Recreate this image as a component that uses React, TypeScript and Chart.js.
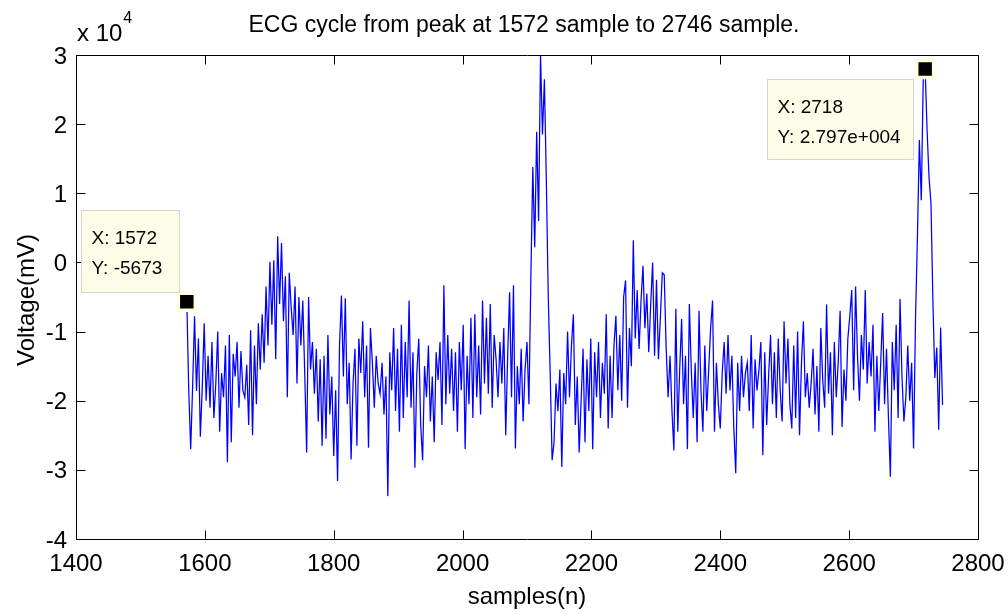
import React, { useEffect, useRef } from "react";
import { Chart, registerables } from "chart.js";

Chart.register(...registerables);

const TITLE = "ECG cycle from peak at 1572 sample to 2746 sample.";
const X_LABEL = "samples(n)";
const Y_LABEL = "Voltage(mV)";
const EXPONENT_BASE = "x 10";
const EXPONENT_POWER = "4";

const START_SAMPLE = 1572;
const SAMPLE_STEP = 3;

// ECG voltage (mV), one value per 3 samples, from sample 1572
const voltage = [
  -5673, -18500, -27000, -18000, -7800, -18600, -11000, -25200, -18000, -8800,
  -20000, -13500, -21000, -11500, -22500, -17500, -10000, -24500, -16000, -19500,
  -12000, -28900, -10500, -26000, -13200, -16500, -11500, -21000, -12800, -18500,
  -19500, -14800, -23500, -9800, -25000, -12000, -20500, -8800, -15500, -7500,
  -14500, -3500, -12000, 100, -9000, 300, -14000, 3800, -6000, 2800,
  -8500, -2000, -19500, -1500, -6500, -10500, -3500, -17500, -5000, -12000,
  -5500, -16000, -27500, -5000, -15500, -11500, -19000, -12500, -23000, -14000,
  -26500, -13500, -25500, -10500, -22000, -16500, -28000, -18500, -31600, -12000,
  -4800, -16500, -5200, -20500, -14500, -28500, -17500, -12500, -26500, -11000,
  -16000, -8500, -19500, -12000, -26800, -9500, -14500, -21000, -13500, -17500,
  -19000, -14500, -22000, -16500, -33800, -13000, -18500, -9500, -21500, -12500,
  -24500, -9000, -22500, -11500, -19500, -5500, -21000, -13000, -29700, -16000,
  -11000, -23500, -28600, -15000, -19500, -12000, -23000, -16500, -26000, -13000,
  -17000, -11500, -23500, -3300, -20500, -10500, -19000, -12500, -21500, -13000,
  -24500, -11500, -18500, -9000, -27000, -13500, -20500, -8000, -22500, -7500,
  -19500, -12000, -22000, -5500, -17500, -8000, -19000, -6000, -21000, -10500,
  -14000, -19500, -11500, -17500, -9500, -25000, -13500, -4300, -19500, -3300,
  -26900, -15000, -20500, -12500, -23000, -15500, -11500, -20500, -2100, 13800,
  2200, 18900, 6000, 30000, 18500, 26500, 11900, -5000, -16000, -28600,
  -26000, -17500, -21500, -15500, -29600, -16000, -20500, -10000, -19500, -12000,
  -7500, -23500, -16500, -27500, -20000, -12500, -26000, -14000, -21500, -11000,
  -27000, -13000, -19500, -11500, -22500, -14500, -19000, -7500, -24000, -13500,
  -22500, -12000, -7700, -18500, -10500, -20000, -5000, -2600, -21000, -9500,
  -15000, 3200, -11000, -4000, -12500, -5500, -500, -9500, -4500, -13000,
  -6000, 0, -13500, -2500, -14000, -8000, -1500, -1800, -12500, -19500,
  -13500, -21500, -27200, -6700, -24500, -15500, -8200, -20500, -13500, -27000,
  -6000, -15500, -22500, -14500, -26000, -7000, -18500, -24500, -12000, -21500,
  -15500, -9500, -5500, -24500, -14500, -20500, -24000, -16000, -11500, -19000,
  -10500, -18500, -13500, -24000, -30500, -14500, -21500, -13500, -19500, -16000,
  -14500, -21500, -10500, -24000, -14000, -18500, -15500, -11500, -27900, -13000,
  -23500, -16500, -10500, -20500, -13000, -22500, -11000, -18500, -23000, -8500,
  -17500, -11000, -20500, -24000, -12000, -22500, -10000, -25000, -14500, -8500,
  -19500, -16000, -21000, -17500, -12500, -22000, -15000, -24500, -9500, -17000,
  -21000, -6100, -19000, -13000, -25000, -11500, -19500, -14500, -7000, -23800,
  -15500, -20000, -11000, -7800, -4000, -18500, -3500, -13500, -20000, -10500,
  -15500, -4000, -17500, -11500, -16500, -9000, -24500, -13500, -21500, -14500,
  -7300, -20500, -12500, -22500, -31000, -11500, -18500, -9000, -22500, -5300,
  -16500, -23000, -19500, -12000, -20000, -14500, -26900, -8300, 3700, 17700,
  9000, 26400, 27970, 19000, 12300, 8600, -5500, -16700, -12300, -24200,
  -9400, -20600,
];

const xTicks = [1400, 1600, 1800, 2000, 2200, 2400, 2600, 2800];
const yTicks = [-40000, -30000, -20000, -10000, 0, 10000, 20000, 30000];
const yTickLabels = ["-4", "-3", "-2", "-1", "0", "1", "2", "3"];

const datatipX = [1572, 2718];
const datatipY = [-5673, 27970];
const datatipLines = [
  ["X: 1572", "Y: -5673"],
  ["X: 2718", "Y: 2.797e+004"],
];

const FONT = '"Liberation Sans", Arial, Helvetica, sans-serif';

const decorPlugin = {
  id: "decor",
  afterDraw(chart: any) {
    const { ctx, chartArea: a } = chart;
    const xs = chart.scales.x;
    const ys = chart.scales.y;
    ctx.save();
    const L = Math.round(a.left) + 0.5;
    const R = Math.round(a.right) + 0.5;
    const T = Math.round(a.top) + 0.5;
    const B = Math.round(a.bottom) + 0.5;
    ctx.strokeStyle = "#000";
    ctx.lineWidth = 1;
    ctx.beginPath();
    ctx.rect(L, T, R - L, B - T);
    ctx.stroke();
    const tl = 9;
    ctx.beginPath();
    xTicks.forEach((v) => {
      const px = Math.round(xs.getPixelForValue(v)) + 0.5;
      ctx.moveTo(px, B);
      ctx.lineTo(px, B - tl);
      ctx.moveTo(px, T);
      ctx.lineTo(px, T + tl);
    });
    yTicks.forEach((v) => {
      const py = Math.round(ys.getPixelForValue(v)) + 0.5;
      ctx.moveTo(L, py);
      ctx.lineTo(L + tl, py);
      ctx.moveTo(R, py);
      ctx.lineTo(R - tl, py);
    });
    ctx.stroke();

    ctx.fillStyle = "#000";
    ctx.font = `24px ${FONT}`;
    ctx.textBaseline = "alphabetic";
    ctx.textAlign = "center";
    xTicks.forEach((v) => {
      ctx.fillText(String(v), xs.getPixelForValue(v), 571);
    });
    ctx.textAlign = "right";
    yTicks.forEach((v, i) => {
      ctx.fillText(yTickLabels[i], a.left - 9, ys.getPixelForValue(v) + 8.5);
    });

    // exponent
    ctx.textAlign = "left";
    ctx.font = `24px ${FONT}`;
    ctx.fillText(EXPONENT_BASE, a.left + 1, 41);
    const w = ctx.measureText(EXPONENT_BASE).width;
    ctx.font = `16px ${FONT}`;
    ctx.fillText(EXPONENT_POWER, a.left + 1 + w + 1, 23);

    // title
    ctx.font = `23px ${FONT}`;
    ctx.textAlign = "center";
    ctx.fillText(TITLE, 524, 32);

    // axis labels
    ctx.font = `24px ${FONT}`;
    ctx.fillText(X_LABEL, (a.left + a.right) / 2, 604);
    ctx.save();
    ctx.translate(27, (a.top + a.bottom) / 2 + 3);
    ctx.rotate(-Math.PI / 2);
    ctx.textBaseline = "middle";
    ctx.fillText(Y_LABEL, 0, 0);
    ctx.restore();

    // datatip boxes
    const boxes = [
      { dx: -106, dy: -92, w: 98, h: 82 },
      { dx: -158, dy: 10, w: 146, h: 80 },
    ];
    datatipX.forEach((dxv, i) => {
      const mx = xs.getPixelForValue(dxv);
      const my = ys.getPixelForValue(datatipY[i]);
      const b = boxes[i];
      const bx = Math.round(mx + b.dx) + 0.5;
      const by = Math.round(my + b.dy) + 0.5;
      ctx.fillStyle = "#fefee8";
      ctx.strokeStyle = "#d6d6d0";
      ctx.lineWidth = 1;
      ctx.fillRect(bx, by, b.w, b.h);
      ctx.strokeRect(bx, by, b.w, b.h);
      ctx.fillStyle = "#000";
      ctx.font = `19px ${FONT}`;
      ctx.textAlign = "left";
      ctx.textBaseline = "alphabetic";
      ctx.fillText(datatipLines[i][0], bx + 10, by + 33);
      ctx.fillText(datatipLines[i][1], bx + 10, by + 63);
    });
    ctx.restore();
  },
};

export default function App() {
  const ref = useRef<HTMLCanvasElement | null>(null);
  useEffect(() => {
    if (!ref.current) return;
    const lineData = voltage.map((v, i) => ({ x: START_SAMPLE + SAMPLE_STEP * i, y: v }));
    const tipData = datatipX.map((x, i) => ({ x, y: datatipY[i] }));
    const chart = new Chart(ref.current, {
      type: "line",
      data: {
        datasets: [
          {
            data: tipData,
            showLine: false,
            pointStyle: "rect",
            pointRadius: 12,
            pointBackgroundColor: "#000000",
            pointBorderColor: "#ffffe0",
            pointBorderWidth: 3.5,
            order: 0,
            clip: false as any,
          },
          {
            data: lineData,
            borderColor: "#0000ff",
            borderWidth: 1.25,
            pointRadius: 0,
            tension: 0,
            fill: false,
            order: 1,
          },
        ],
      },
      options: {
        responsive: false,
        animation: false,
        devicePixelRatio: 1,
        events: [],
        layout: { padding: { left: 76, right: 30, top: 55, bottom: 75 } },
        plugins: { legend: { display: false }, tooltip: { enabled: false }, title: { display: false } },
        scales: {
          x: { type: "linear", min: 1400, max: 2800, display: false },
          y: { type: "linear", min: -40000, max: 30000, display: false },
        },
      },
      plugins: [decorPlugin],
    });
    return () => chart.destroy();
  }, []);
  return (
    <div style={{ position: "absolute", left: 0, top: 0, width: 1008, height: 614, background: "#fff" }}>
      <canvas ref={ref} width={1008} height={614} />
    </div>
  );
}
